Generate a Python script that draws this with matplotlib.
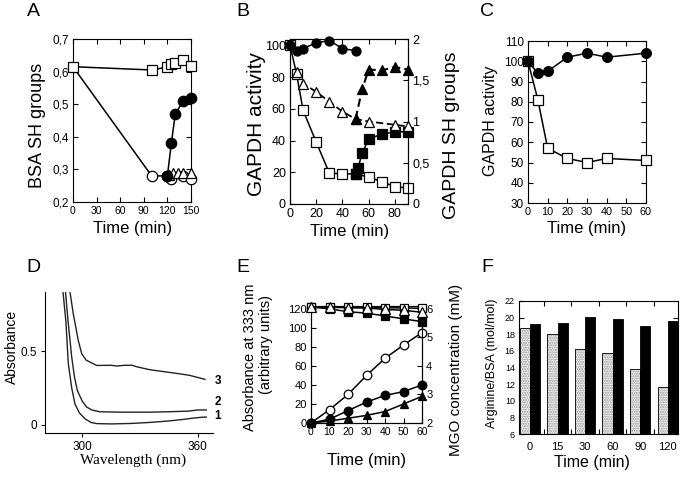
import matplotlib
matplotlib.use("Agg")
import matplotlib.pyplot as plt
import numpy as np

plt.rcParams['font.family'] = ['Liberation Sans', 'DejaVu Sans']
plt.rcParams['axes.linewidth'] = 0.8

W, H = 683, 478

# ---------------- data ----------------
# Panel A
A_sq_x = [0, 100, 120, 125, 130, 140, 150]
A_sq_y = [0.615, 0.605, 0.614, 0.624, 0.626, 0.635, 0.616]
A_oc_x = [0, 100, 120, 125, 140, 150]
A_oc_y = [0.615, 0.28, 0.28, 0.27, 0.28, 0.27]
A_fc_x = [120, 125, 130, 140, 150]
A_fc_y = [0.28, 0.38, 0.47, 0.51, 0.52]
A_ot_x = [122, 127, 133, 140, 150]
A_ot_y = [0.283, 0.29, 0.29, 0.29, 0.29]

# Panel B
B_fc_x = [0, 5, 10, 20, 30, 40, 50]
B_fc_y = [100, 96.6, 98, 101.6, 103, 98, 96.6]
B_os_x = [0, 5, 10, 20, 30, 40, 50, 60, 70, 80, 90]
B_os_y = [100, 82, 59, 39, 19.5, 19, 19, 17, 14, 11, 10]
B_fs_x = [50, 52, 55, 60, 70, 80, 90]
B_fs_y = [19, 23, 32, 41, 44, 45.5, 45.5]
B_ot_x = [5, 10, 20, 30, 40, 50, 60, 80, 90]
B_ot_y = [1.60, 1.46, 1.36, 1.24, 1.12, 1.03, 1.00, 0.96, 0.94]
B_ft_x = [50, 55, 60, 70, 80, 90]
B_ft_y = [1.03, 1.39, 1.63, 1.62, 1.66, 1.63]

# Panel C
C_x = [0, 5, 10, 20, 30, 40, 60]
C_fc_y = [100, 94, 95, 102, 104, 102, 104]
C_os_y = [100, 81, 57, 52, 50, 52, 51]

# Panel D (absorbance spectra)
D1_wl = [290.0, 291.5, 292.7, 294.5, 296.2, 298.5, 301.4, 304.5, 307.5, 315, 325, 335, 345, 352, 358, 362, 364.5]
D1_ab = [0.90, 0.70, 0.42, 0.25, 0.14, 0.08, 0.04, 0.015, 0.007, 0.005, 0.008, 0.015, 0.025, 0.035, 0.045, 0.05, 0.052]
D2_wl = [291.3, 292.5, 294.5, 296.0, 297.5, 300.0, 302.3, 305.0, 309.0, 320, 335, 345, 355, 360, 364.5]
D2_ab = [0.90, 0.72, 0.46, 0.32, 0.23, 0.16, 0.12, 0.10, 0.088, 0.085, 0.085, 0.088, 0.092, 0.10, 0.10]
D3_wl = [293.6, 295.3, 297.9, 299.7, 302.0, 304.0, 307.5, 309.2, 315, 318, 322, 326, 328.3, 335, 343.9, 350, 356, 360, 363.8]
D3_ab = [0.905, 0.757, 0.575, 0.484, 0.44, 0.427, 0.404, 0.404, 0.405, 0.400, 0.405, 0.405, 0.395, 0.375, 0.359, 0.348, 0.336, 0.322, 0.309]
D_labels = ["1", "2", "3"]
D_label_y = [0.06, 0.155, 0.30]

# Panel E
E_x = [0, 10, 20, 30, 40, 50, 60]
E_oc = [0, 14, 30, 50, 68, 82, 95]
E_fc = [0, 4, 13, 22, 29, 33, 40]
E_ft = [0, 2, 5, 8, 12, 20, 28]
E_os = [6.05, 6.05, 6.05, 6.05, 6.04, 6.03, 6.02]     # MGO (mM)
E_ot = [6.07, 6.07, 6.04, 6.03, 5.98, 5.95, 5.88]     # MGO (mM)
E_fs = [6.07, 6.0, 5.9, 5.85, 5.75, 5.65, 5.55]       # MGO (mM)

# Panel F
F_cats = ["0", "15", "30", "60", "90", "120"]
F_light = [18.8, 18.0, 16.2, 15.8, 13.8, 11.7]
F_dark = [19.2, 19.4, 20.1, 19.8, 19.0, 19.6]

# ---------------- helpers ----------------
fig = plt.figure(figsize=(W / 100, H / 100), dpi=100)


def rect(l, t, r, b):
    return [l / W, 1 - b / H, (r - l) / W, (b - t) / H]


def ftext(x, y, s, **kw):
    fig.text(x / W, 1 - y / H, s, **kw)


def box_ticks(ax, right=True):
    ax.tick_params(direction='in', length=3.5, width=0.8, top=True, right=right, pad=3)


def mk(ax, x, y, marker, filled, ms, **kw):
    ax.plot(x, y, marker=marker, color='k', lw=1.1, ms=ms,
            mfc='k' if filled else 'white', mec='k', mew=0.9, clip_on=False, **kw)

# ---------------- Panel A ----------------
axA = fig.add_axes(rect(73, 39, 191, 202))
mk(axA, A_sq_x, A_sq_y, 's', False, 7.5, zorder=3)
axA.plot([A_oc_x[0], A_oc_x[1], A_oc_x[2]], [A_oc_y[0], A_oc_y[1], A_oc_y[2]], color='k', lw=1.1)
mk(axA, A_fc_x, A_fc_y, 'o', True, 7.5, zorder=4)
mk(axA, A_oc_x[1:], A_oc_y[1:], 'o', False, 7.5, ls='none', zorder=3)
mk(axA, A_ot_x, A_ot_y, '^', False, 7, ls='none', zorder=3)
axA.set_xlim(0, 150)
axA.set_ylim(0.2, 0.7)
axA.set_xticks([0, 30, 60, 90, 120, 150])
axA.set_yticks([0.2, 0.3, 0.4, 0.5, 0.6, 0.7])
axA.set_yticklabels(["0,2", "0,3", "0,4", "0,5", "0,6", "0,7"], fontsize=8.5)
axA.set_xticklabels(["0", "30", "60", "90", "120", "150"], fontsize=7.5)
box_ticks(axA)
ftext(37, 125, "BSA SH groups", rotation=90, ha='center', va='center', fontsize=13)
ftext(133, 228, "Time (min)", ha='center', va='center', fontsize=12)
ftext(33, 12, "A", ha='center', va='center', fontsize=14)

# ---------------- Panel B ----------------
axB = fig.add_axes(rect(290, 39, 408, 204))
axB2 = axB.twinx()
axB2.plot(B_ot_x, B_ot_y, color='k', lw=1.3, dashes=(4, 2), marker='^', ms=6.5,
          mfc='white', mec='k', mew=0.9, clip_on=False, zorder=3)
axB2.plot(B_ft_x, B_ft_y, color='k', lw=1.5, dashes=(4, 2), marker='^', ms=6.5,
          mfc='k', mec='k', mew=0.9, clip_on=False, zorder=4)
mk(axB, B_os_x, B_os_y, 's', False, 6.5, zorder=3)
mk(axB, B_fs_x, B_fs_y, 's', True, 6.5, zorder=4)
mk(axB, B_fc_x, B_fc_y, 'o', True, 6.5, zorder=4)
axB.set_xlim(0, 90)
axB.set_ylim(0, 104)
axB2.set_ylim(0, 2)
axB.set_xticks([0, 20, 40, 60, 80])
axB.set_yticks([0, 20, 40, 60, 80, 100])
axB.tick_params(labelsize=9)
axB2.set_yticks([0, 0.5, 1, 1.5, 2])
axB2.set_yticklabels(["0", "0,5", "1", "1,5", "2"], fontsize=9)
box_ticks(axB, right=False)
axB2.tick_params(direction='in', length=3.5, width=0.8, pad=3)
ftext(257, 124, "GAPDH activity", rotation=90, ha='center', va='center', fontsize=15)
ftext(452, 135, "GAPDH SH groups", rotation=90, ha='center', va='center', fontsize=14)
ftext(350, 232, "Time (min)", ha='center', va='center', fontsize=12)
ftext(243, 12, "B", ha='center', va='center', fontsize=14)

# ---------------- Panel C ----------------
axC = fig.add_axes(rect(528, 41, 646, 203))
mk(axC, C_x, C_os_y, 's', False, 7, zorder=3)
mk(axC, C_x, C_fc_y, 'o', True, 7, zorder=4)
axC.set_xlim(0, 60)
axC.set_ylim(30, 110)
axC.set_xticks([0, 10, 20, 30, 40, 50, 60])
axC.set_yticks([30, 40, 50, 60, 70, 80, 90, 100, 110])
axC.tick_params(axis='y', labelsize=8.5)
axC.tick_params(axis='x', labelsize=7.8)
box_ticks(axC)
ftext(490, 121, "GAPDH activity", rotation=90, ha='center', va='center', fontsize=11.5)
ftext(587, 228, "Time (min)", ha='center', va='center', fontsize=12)
ftext(487, 12, "C", ha='center', va='center', fontsize=14)

# ---------------- Panel D ----------------
axD = fig.add_axes(rect(45, 292, 213, 433))
for wl, ab in ((D1_wl, D1_ab), (D2_wl, D2_ab), (D3_wl, D3_ab)):
    axD.plot(wl, ab, color='#222222', lw=1.0)
axD.set_xlim(280.6, 368)
axD.set_ylim(-0.057, 0.905)
axD.spines['top'].set_visible(False)
axD.spines['right'].set_visible(False)
axD.set_xticks([300, 360])
axD.set_yticks([0, 0.5])
axD.set_yticklabels(["0", "0.5"])
axD.tick_params(direction='out', length=3, width=0.8, labelsize=8.5, pad=3)
for lab, ly in zip(D_labels, D_label_y):
    axD.text(370.5, ly, lab, fontsize=8.5, fontweight='bold', ha='center', va='center', clip_on=False)
ftext(12, 347, "Absorbance", rotation=90, ha='center', va='center', fontsize=10)
ftext(133, 460, "Wavelength (nm)", ha='center', va='center', fontsize=11,
      family=['Liberation Serif', 'DejaVu Serif'])
ftext(33, 268, "D", ha='center', va='center', fontsize=14)

# ---------------- Panel E ----------------
axE = fig.add_axes(rect(311, 306, 422, 423))
axE2 = axE.twinx()
E_top = 123
axE.set_ylim(0, E_top)
axE2.set_ylim(2, 2 + E_top / 30)
mk(axE2, E_x, E_fs, 's', True, 6.2, zorder=3)
mk(axE2, E_x, E_os, 's', False, 6.2, zorder=4)
mk(axE2, E_x, E_ot, '^', False, 6.5, zorder=5)
mk(axE, E_x, E_oc, 'o', False, 6.2, zorder=3)
mk(axE, E_x, E_fc, 'o', True, 6.2, zorder=4)
mk(axE, E_x, E_ft, '^', True, 5.5, zorder=4)
axE.set_xlim(0, 60)
axE.set_xticks([0, 10, 20, 30, 40, 50, 60])
axE.set_yticks([0, 20, 40, 60, 80, 100, 120])
axE.tick_params(axis='y', labelsize=8)
axE.tick_params(axis='x', labelsize=7.5)
box_ticks(axE, right=False)
axE2.set_yticks([2, 3, 4, 5, 6])
axE2.tick_params(direction='in', length=3.5, width=0.8, pad=3, labelsize=8)
ftext(250, 357, "Absorbance at 333 nm", rotation=90, ha='center', va='center', fontsize=10.5)
ftext(266, 345, "(arbitrary units)", rotation=90, ha='center', va='center', fontsize=10.5)
ftext(456, 370, "MGO concentration (mM)", rotation=90, ha='center', va='center', fontsize=11)
ftext(367, 460, "Time (min)", ha='center', va='center', fontsize=12)
ftext(243, 268, "E", ha='center', va='center', fontsize=14)

# ---------------- Panel F ----------------
axF = fig.add_axes(rect(519, 301, 678, 434))
pos = np.arange(len(F_cats))
bw = 0.37
axF.bar(pos - bw / 2, F_light, width=bw, bottom=0, color='#f2f2f2', edgecolor='#9a9a9a',
        hatch='.......', linewidth=0, zorder=2)
axF.bar(pos - bw / 2, F_light, width=bw, fill=False, edgecolor='k', linewidth=0.6, zorder=3)
axF.bar(pos + bw / 2, F_dark, width=bw, color='k', edgecolor='k', linewidth=0.6, zorder=3)
axF.set_xlim(-0.4, 5.37)
axF.set_ylim(6, 22)
axF.set_yticks(np.arange(6, 23, 2))
axF.set_xticks(pos)
axF.set_xticklabels(F_cats, fontsize=8)
axF.set_xticks(pos[:-1] + 0.5, minor=True)
axF.tick_params(axis='x', which='major', length=0, pad=6)
axF.tick_params(axis='x', which='minor', direction='in', length=3.5, width=0.8, top=True, bottom=True)
axF.tick_params(axis='y', direction='in', length=3.5, width=0.8, right=True, labelsize=6.5, pad=3)
ftext(492, 363, "Arginine/BSA (mol/mol)", rotation=90, ha='center', va='center', fontsize=9)
ftext(592, 463, "Time (min)", ha='center', va='center', fontsize=11.5)
ftext(487, 268, "F", ha='center', va='center', fontsize=14)

fig.savefig("out.png", dpi=100)
